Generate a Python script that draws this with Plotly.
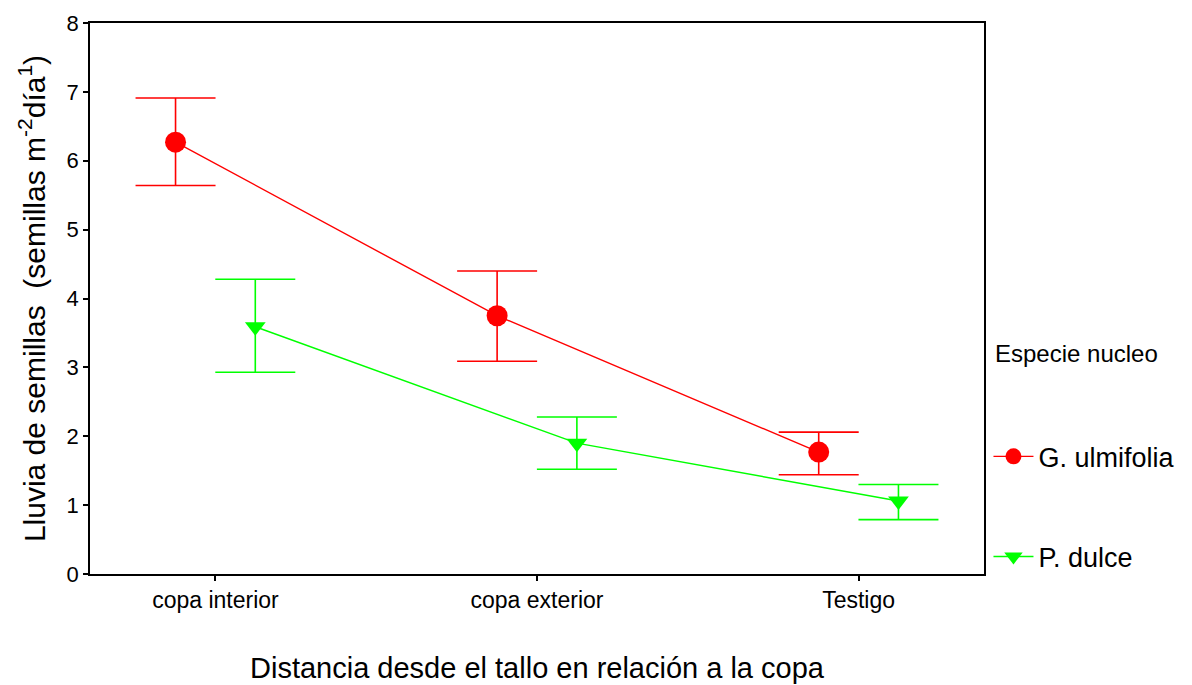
import plotly.graph_objects as go

# Seed rain per distance class, mean with upper/lower interval bounds
categorias = ["copa interior", "copa exterior", "Testigo"]

g_media = [6.27, 3.75, 1.77]
g_sup = [6.91, 4.40, 2.06]
g_inf = [5.64, 3.09, 1.44]

p_media = [3.59, 1.90, 1.06]
p_sup = [4.28, 2.28, 1.30]
p_inf = [2.93, 1.52, 0.79]

y_ticks = [0, 1, 2, 3, 4, 5, 6, 7, 8]

ROJO = "#ff0000"
VERDE = "#00ff00"
FUENTE = "Arial, Liberation Sans, sans-serif"
DESPLAZ = 0.124  # side-by-side dodge of the two species within a category

idx = list(range(len(categorias)))


def serie(nombre, media, sup, inf, color, simbolo, tam, dx, grupo):
    return go.Scatter(
        x=[i + dx for i in idx],
        y=media,
        name=nombre,
        legendgroup=grupo,
        mode="lines+markers",
        line=dict(color=color, width=1.4),
        marker=dict(color=color, symbol=simbolo, size=tam),
        error_y=dict(
            type="data",
            symmetric=False,
            array=[s - m for s, m in zip(sup, media)],
            arrayminus=[m - n for m, n in zip(media, inf)],
            color=color,
            thickness=1.6,
            width=40,
        ),
    )


fig = go.Figure()
fig.add_trace(serie("G. ulmifolia", g_media, g_sup, g_inf, ROJO, "circle", 21, -DESPLAZ, "g"))
fig.add_trace(serie("P. dulce", p_media, p_sup, p_inf, VERDE, "triangle-down", 18, DESPLAZ, "p"))

fig.update_layout(
    width=1192,
    height=685,
    margin=dict(l=90, r=205, t=23, b=111),
    paper_bgcolor="white",
    plot_bgcolor="white",
    font=dict(family=FUENTE, color="black"),
    showlegend=True,
    legend=dict(
        x=1.005,
        xanchor="left",
        y=0.122,
        yanchor="middle",
        traceorder="grouped",
        tracegroupgap=62,
        font=dict(size=27, family=FUENTE, color="black"),
        bgcolor="rgba(0,0,0,0)",
        itemwidth=40,
    ),
    annotations=[
        dict(
            text="Especie nucleo",
            xref="paper",
            yref="paper",
            x=1.01,
            y=(574 - 353) / 551,
            xanchor="left",
            yanchor="middle",
            showarrow=False,
            font=dict(size=24, family=FUENTE, color="black"),
        )
    ],
)

fig.update_xaxes(
    range=[-0.39, 2.39],
    tickmode="array",
    tickvals=idx,
    ticktext=categorias,
    ticks="outside",
    ticklen=5,
    tickwidth=1.5,
    tickcolor="black",
    showline=True,
    linecolor="black",
    linewidth=1.5,
    mirror=True,
    showgrid=False,
    zeroline=False,
    automargin=False,
    tickfont=dict(size=23, family=FUENTE, color="black"),
    title=dict(
        text="Distancia desde el tallo en relación a la copa",
        font=dict(size=29, family=FUENTE, color="black"),
        standoff=45,
    ),
)

fig.update_yaxes(
    range=[0, 8],
    tickmode="array",
    tickvals=y_ticks,
    ticks="outside",
    ticklen=5,
    tickwidth=1.5,
    tickcolor="black",
    showline=True,
    linecolor="black",
    linewidth=1.5,
    mirror=True,
    showgrid=False,
    zeroline=False,
    automargin=False,
    tickfont=dict(size=22, family=FUENTE, color="black"),
    title=dict(
        text="Lluvia de semillas\u00a0 (semillas m<sup>-2</sup>día<sup>1</sup>)",
        font=dict(size=30, family=FUENTE, color="black"),
        standoff=12,
    ),
)

fig.write_html("out.html")
